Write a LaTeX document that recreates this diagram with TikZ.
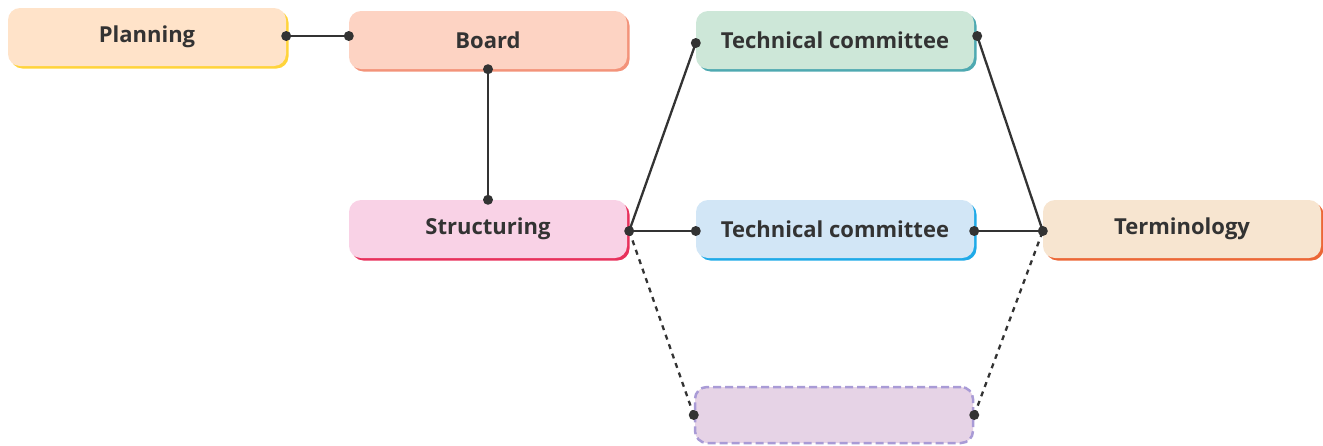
\documentclass[tikz,border=0pt]{standalone}
\usepackage{fontspec}
\setmainfont{Open Sans}
\usetikzlibrary{shadows}
\definecolor{txt}{HTML}{333333}
\definecolor{lnc}{HTML}{333333}
\definecolor{fPlan}{HTML}{FFE3C9}\definecolor{sPlan}{HTML}{FFD43B}
\definecolor{fBoard}{HTML}{FDD3C3}\definecolor{sBoard}{HTML}{F3937A}
\definecolor{fStruct}{HTML}{F9D2E6}\definecolor{sStruct}{HTML}{E8315C}
\definecolor{fTcA}{HTML}{CDE7D8}\definecolor{sTcA}{HTML}{4EA9B1}
\definecolor{fTcB}{HTML}{D2E6F6}\definecolor{sTcB}{HTML}{1FAAE8}
\definecolor{fTerm}{HTML}{F7E5D0}\definecolor{sTerm}{HTML}{EC6736}
\definecolor{fEmpty}{HTML}{E6D3E6}\definecolor{sEmpty}{HTML}{A99BD6}
\begin{document}
\begin{tikzpicture}[x=1pt,y=-1pt,
  box/.style n args={2}{rectangle, rounded corners=12pt, minimum width=278pt, minimum height=58pt,
    fill=#1, draw=none, text=txt, font=\fontsize{22pt}{26pt}\selectfont\bfseries,
    drop shadow={shadow xshift=2.5pt, shadow yshift=-2.5pt, fill=#2, opacity=1}},
  conn/.style={draw=lnc, line width=2.3pt},
  dotconn/.style={draw=lnc, line width=2.3pt, dash pattern=on 5pt off 5pt},
  dot/.style={circle, fill=lnc, inner sep=0pt, minimum size=10pt}
]
\useasboundingbox (0,0) rectangle (1323,445);
\node[box={fPlan}{sPlan}] (plan) at (147,37) {Planning};
\node[box={fBoard}{sBoard}] (board) at (488,40) {Board};
\node[box={fStruct}{sStruct}] (struct) at (488,229) {Structuring};
\node[box={fTcA}{sTcA}] (tca) at (835,40) {Technical committee};
\node[box={fTcB}{sTcB}] (tcb) at (835,229) {Technical committee};
\node[box={fTerm}{sTerm}] (term) at (1182,229) {Terminology};
\node[rectangle, rounded corners=12pt, minimum width=278pt, minimum height=56pt,
  fill=fEmpty, draw=sEmpty, line width=2.5pt, dash pattern=on 8pt off 4pt] (empty) at (834,415) {};

% anchor points
\coordinate (pE) at (plan.east |- 0,36);
\coordinate (bW) at (board.west |- 0,36);
\coordinate (bS) at (board.south);
\coordinate (sN) at (struct.north);
\coordinate (sE) at ([xshift=2pt,yshift=-2pt]struct.east);
\coordinate (aW) at ([yshift=-3pt]tca.west);
\coordinate (aE) at ([xshift=3pt,yshift=4pt]tca.east);
\coordinate (bbW) at ([yshift=-2pt]tcb.west);
\coordinate (bbE) at ([yshift=-2pt]tcb.east);
\coordinate (tW) at ([yshift=-2pt]term.west);
\coordinate (eW) at (empty.west);
\coordinate (eE) at (empty.east);

\draw[conn] (pE) -- (bW);
\draw[conn] (bS) -- (sN);
\draw[conn] (sE) -- (aW);
\draw[conn] (sE) -- (bbW);
\draw[dotconn] (sE) -- (eW);
\draw[conn] (aE) -- (tW);
\draw[conn] (bbE) -- (tW);
\draw[dotconn] (eE) -- (tW);

\foreach \p in {pE,bW,bS,sN,sE,aW,aE,bbW,bbE,tW,eW,eE}
  \node[dot] at (\p) {};
\end{tikzpicture}
\end{document}
